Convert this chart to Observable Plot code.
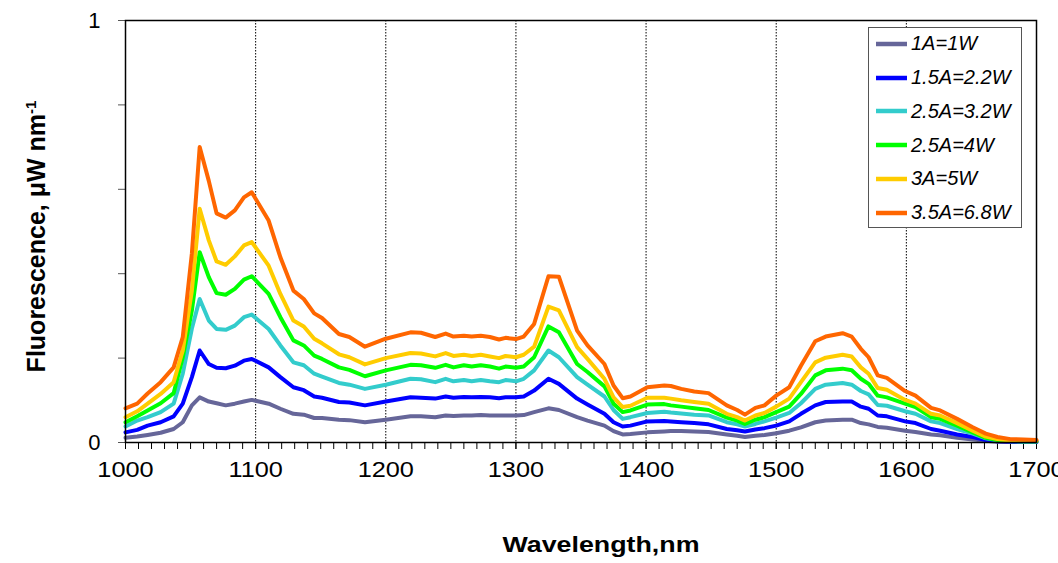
<!DOCTYPE html>
<html>
<head>
<meta charset="utf-8">
<script src="https://cdn.jsdelivr.net/npm/d3@7"></script>
<script src="https://cdn.jsdelivr.net/npm/@observablehq/plot@0.6"></script>
<style>
  html, body { margin: 0; padding: 0; background: white; }
  #wrap { position: relative; width: 1058px; height: 563px; font-family: Arial, "Liberation Sans", sans-serif; }
  #legend { position: absolute; left: 868px; top: 27px; width: 154px; height: 201px; border: 1px solid #555; background: white; box-sizing: border-box; }
  .item { position: absolute; left: 0; height: 24px; display: flex; align-items: center; }
  .item svg { display: block; margin-left: 7px; }
  .item span { font-style: italic; font-size: 20px; margin-left: 4px; color: #000; white-space: nowrap; }
</style>
</head>
<body>
<div id="wrap"></div>
<script>
const wavelengths = [1000,1009,1017,1027,1037,1044,1051,1057,1064,1070,1077,1084,1091,1097,1110,1119,1129,1137,1145,1151,1164,1172,1184,1200,1219,1227,1238,1246,1252,1260,1266,1273,1280,1287,1292,1300,1306,1314,1325,1333,1347,1355,1368,1375,1382,1388,1401,1414,1419,1427,1437,1448,1462,1470,1476,1484,1491,1500,1510,1519,1530,1538,1551,1558,1565,1571,1578,1585,1599,1607,1619,1626,1639,1651,1661,1670,1680,1690,1700];

const s1A_1W = [0.011,0.014,0.018,0.023,0.032,0.048,0.088,0.107,0.097,0.093,0.088,0.092,0.097,0.101,0.092,0.080,0.068,0.066,0.058,0.058,0.054,0.053,0.048,0.054,0.062,0.062,0.060,0.064,0.063,0.064,0.064,0.065,0.064,0.064,0.064,0.064,0.065,0.072,0.081,0.077,0.060,0.052,0.040,0.027,0.019,0.020,0.024,0.026,0.027,0.027,0.026,0.025,0.019,0.016,0.013,0.016,0.018,0.022,0.028,0.036,0.048,0.052,0.054,0.054,0.046,0.043,0.037,0.035,0.028,0.025,0.019,0.017,0.011,0.007,0.004,0.002,0.001,0.001,0.001];

const s15A_22W = [0.024,0.030,0.040,0.048,0.062,0.092,0.155,0.218,0.186,0.177,0.176,0.182,0.194,0.198,0.178,0.155,0.131,0.124,0.109,0.106,0.096,0.095,0.088,0.097,0.107,0.106,0.104,0.109,0.106,0.108,0.107,0.108,0.107,0.105,0.107,0.107,0.109,0.123,0.151,0.139,0.104,0.090,0.068,0.048,0.038,0.040,0.050,0.051,0.050,0.048,0.046,0.043,0.032,0.029,0.026,0.031,0.034,0.040,0.050,0.068,0.088,0.096,0.097,0.097,0.085,0.080,0.064,0.062,0.050,0.046,0.032,0.028,0.019,0.013,0.006,0.003,0.002,0.001,0.001];

const s25A_32W = [0.038,0.052,0.060,0.072,0.092,0.163,0.270,0.340,0.289,0.269,0.267,0.277,0.297,0.303,0.269,0.230,0.190,0.183,0.163,0.156,0.141,0.137,0.127,0.137,0.151,0.150,0.143,0.151,0.145,0.148,0.145,0.148,0.145,0.143,0.148,0.145,0.151,0.171,0.218,0.202,0.155,0.137,0.109,0.077,0.056,0.060,0.070,0.073,0.071,0.069,0.066,0.064,0.048,0.043,0.038,0.044,0.050,0.059,0.070,0.093,0.127,0.137,0.141,0.137,0.122,0.114,0.089,0.087,0.074,0.068,0.050,0.046,0.032,0.021,0.010,0.005,0.003,0.002,0.002];

const s25A_4W = [0.048,0.062,0.076,0.093,0.117,0.202,0.313,0.451,0.392,0.354,0.350,0.364,0.386,0.394,0.352,0.297,0.242,0.230,0.206,0.198,0.178,0.172,0.157,0.171,0.184,0.183,0.177,0.184,0.178,0.183,0.180,0.183,0.180,0.175,0.180,0.177,0.180,0.202,0.275,0.261,0.186,0.167,0.133,0.092,0.072,0.076,0.090,0.091,0.088,0.085,0.081,0.077,0.059,0.052,0.044,0.054,0.060,0.072,0.085,0.115,0.159,0.171,0.175,0.171,0.151,0.139,0.111,0.107,0.092,0.084,0.060,0.056,0.040,0.024,0.011,0.006,0.004,0.003,0.003];

const s3A_5W = [0.060,0.074,0.092,0.115,0.143,0.218,0.360,0.554,0.479,0.429,0.421,0.441,0.467,0.475,0.419,0.352,0.289,0.275,0.246,0.235,0.209,0.202,0.185,0.200,0.212,0.211,0.204,0.212,0.205,0.208,0.205,0.208,0.204,0.200,0.205,0.202,0.208,0.227,0.322,0.313,0.226,0.198,0.151,0.107,0.084,0.087,0.106,0.106,0.104,0.100,0.096,0.092,0.068,0.060,0.052,0.064,0.070,0.085,0.104,0.143,0.190,0.201,0.208,0.204,0.178,0.163,0.129,0.125,0.101,0.092,0.068,0.064,0.046,0.028,0.014,0.008,0.005,0.004,0.004];

const s35A_68W = [0.081,0.092,0.116,0.143,0.178,0.250,0.448,0.700,0.620,0.543,0.533,0.550,0.581,0.593,0.526,0.439,0.360,0.340,0.306,0.295,0.257,0.250,0.227,0.246,0.261,0.260,0.250,0.258,0.251,0.253,0.251,0.253,0.250,0.244,0.248,0.245,0.251,0.281,0.394,0.393,0.265,0.230,0.186,0.135,0.105,0.109,0.131,0.135,0.134,0.127,0.121,0.117,0.088,0.077,0.066,0.082,0.088,0.111,0.131,0.182,0.240,0.251,0.259,0.251,0.222,0.202,0.159,0.153,0.122,0.111,0.082,0.076,0.056,0.036,0.021,0.013,0.008,0.007,0.006];

const seriesNames = ["1A=1W", "1.5A=2.2W", "2.5A=3.2W", "2.5A=4W", "3A=5W", "3.5A=6.8W"];
const seriesValues = [s1A_1W, s15A_22W, s25A_32W, s25A_4W, s3A_5W, s35A_68W];
const seriesColors = ["#666699", "#0000FF", "#33CCCC", "#00FF00", "#FFCC00", "#FF6600"];

const xMajorTicks = [1000, 1100, 1200, 1300, 1400, 1500, 1600, 1700];
const xGridTicks = [1100, 1200, 1300, 1400, 1500, 1600];
const xMinorTicks = d3.range(1000, 1701, 10);
const yTicks = [0, 0.2, 0.4, 0.6, 0.8, 1];
const yTickLabels = {0: "0", 1: "1"};

const rows = seriesNames.flatMap((name, k) =>
  wavelengths.map((w, i) => ({wavelength: w, value: seriesValues[k][i], series: name}))
);

const font = "Arial, 'Liberation Sans', sans-serif";

const chart = Plot.plot({
  width: 1058,
  height: 563,
  marginLeft: 125,
  marginRight: 22,
  marginTop: 20,
  marginBottom: 121,
  style: {fontFamily: font, background: "white", color: "black"},
  x: {domain: [1000, 1700]},
  y: {domain: [0, 1]},
  color: {domain: seriesNames, range: seriesColors},
  marks: [
    Plot.gridX(xGridTicks, {stroke: "black", strokeOpacity: 1, strokeWidth: 1, strokeDasharray: "1.5,1.5"}),
    Plot.axisX(xMinorTicks, {tickSize: 7, tickFormat: () => "", label: null, stroke: "black"}),
    Plot.axisX(xMajorTicks, {tickSize: 7, tickPadding: 12, fontSize: 22, label: null, tickFormat: d => String(d), className: "xticks"}),
    Plot.axisY(yTicks, {tickSize: 7, tickPadding: 18, fontSize: 22, label: null, stroke: "#555",
      tickFormat: d => yTickLabels[d] ?? "", className: "yticks"}),
    Plot.line(rows, {x: "wavelength", y: "value", z: "series", stroke: "series", strokeWidth: 4, strokeLinejoin: "round"}),
    Plot.frame({stroke: "black", strokeWidth: 1.5}),
    Plot.text(["Wavelength,nm"], {frameAnchor: "bottom", dx: 20, dy: 109, fontSize: 22, fontWeight: "bold", className: "xlabel"}),
    Plot.text(["Fluorescence, \u03BCW nm"], {frameAnchor: "left", textAnchor: "middle", rotate: -90, dx: -89, dy: 5, fontSize: 25, fontWeight: "bold", className: "ylabel"})
  ]
});

const wrap = document.getElementById("wrap");
wrap.appendChild(chart);

// superscript on the y label and stretch on x label
const ylab = chart.querySelector(".ylabel text");
if (ylab) {
  const ns = "http://www.w3.org/2000/svg";
  const sup = document.createElementNS(ns, "tspan");
  sup.setAttribute("dy", "-0.55em");
  sup.setAttribute("font-size", "15");
  sup.textContent = "-1";
  ylab.appendChild(sup);
}
const xlab = chart.querySelector(".xlabel text");
if (xlab) {
  xlab.setAttribute("textLength", "197");
  xlab.setAttribute("lengthAdjust", "spacingAndGlyphs");
}
// widen the tick labels slightly, like the reference
chart.querySelectorAll(".xticks text").forEach(t => {
  const len = t.getComputedTextLength();
  if (len > 0) {
    t.setAttribute("textLength", (len * 1.15).toFixed(1));
    t.setAttribute("lengthAdjust", "spacingAndGlyphs");
  }
});

// legend
const legend = document.createElement("div");
legend.id = "legend";
seriesNames.forEach((name, k) => {
  const item = document.createElement("div");
  item.className = "item";
  item.style.top = (15.7 + k * 33.8 - 12) + "px";
  item.innerHTML = `<svg width="31" height="6"><line x1="0" y1="3" x2="31" y2="3" stroke="${seriesColors[k]}" stroke-width="4.5"/></svg><span>${name}</span>`;
  legend.appendChild(item);
});
wrap.appendChild(legend);
</script>
</body>
</html>
